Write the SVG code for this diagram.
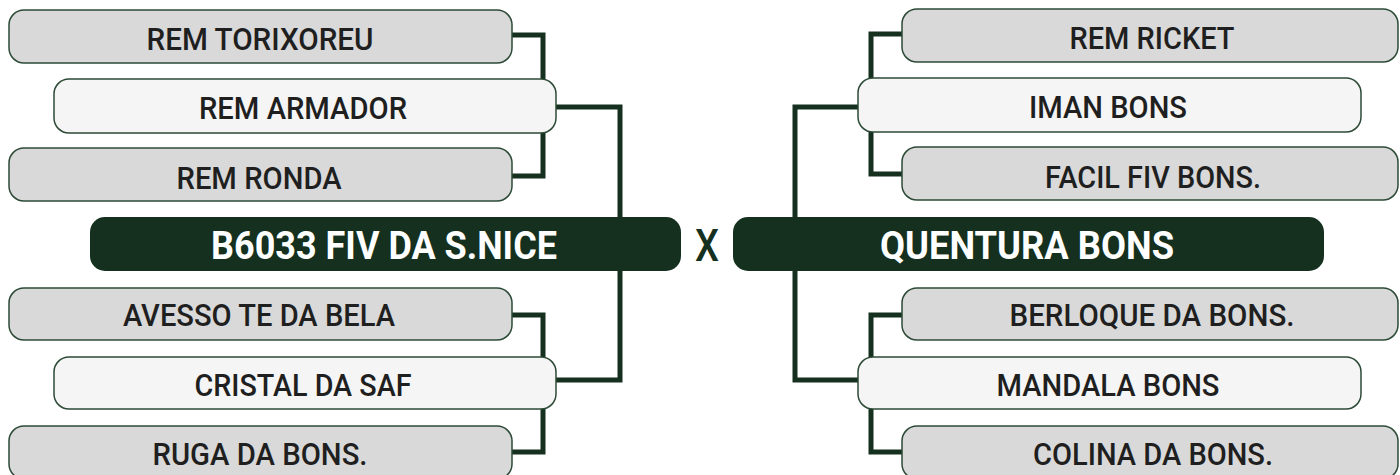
<svg xmlns="http://www.w3.org/2000/svg" width="1400" height="475" viewBox="0 0 1400 475">
  <style>
    .gray { fill: #d9d9d9; stroke: #2c4a36; stroke-width: 1.5; }
    .white { fill: #f5f5f5; stroke: #2c4a36; stroke-width: 1.5; }
    .dark { fill: #15301e; }
    .conn { fill: none; stroke: #15301e; stroke-width: 5; stroke-linejoin: miter; }
    .lbl { font-family: Roboto, "Liberation Sans", sans-serif; font-size: 32px; font-weight: 500; fill: #1f1f1f; text-anchor: middle; }
    .big { font-family: Roboto, "Liberation Sans", sans-serif; font-size: 39px; font-weight: 700; fill: #ffffff; text-anchor: middle; }
    .vs { font-family: Roboto, "Liberation Sans", sans-serif; font-size: 45px; font-weight: 500; fill: #15301e; text-anchor: middle; }
  </style>
  <rect width="1400" height="475" fill="#ffffff"/>
  <g id="connectors">
    <path class="conn" d="M512,35 H543 V80"/>
    <path class="conn" d="M543,132 V176 H512"/>
    <path class="conn" d="M556,107 H620 V380 H556"/>
    <path class="conn" d="M512,315 H543 V358"/>
    <path class="conn" d="M543,408 V452 H512"/>
    <path class="conn" d="M902,34 H871 V79"/>
    <path class="conn" d="M871,131 V174 H902"/>
    <path class="conn" d="M858,107 H795 V380 H858"/>
    <path class="conn" d="M902,315 H871 V358"/>
    <path class="conn" d="M871,408 V452 H902"/>
  </g>
  <g id="n-rem-torixoreu">
    <rect class="gray" x="9" y="10" width="503" height="53" rx="15"/>
    <text class="lbl" x="260" y="50" textLength="227" lengthAdjust="spacingAndGlyphs">REM TORIXOREU</text>
  </g>
  <g id="n-rem-armador">
    <rect class="white" x="54" y="79" width="502" height="54" rx="15"/>
    <text class="lbl" x="303" y="119" textLength="208" lengthAdjust="spacingAndGlyphs">REM ARMADOR</text>
  </g>
  <g id="n-rem-ronda">
    <rect class="gray" x="9" y="148" width="503" height="53" rx="15"/>
    <text class="lbl" x="259" y="189" textLength="165" lengthAdjust="spacingAndGlyphs">REM RONDA</text>
  </g>
  <g id="n-b6033">
    <rect class="dark" x="90" y="217" width="591" height="54" rx="15"/>
    <text class="big" x="384" y="259" textLength="346" lengthAdjust="spacingAndGlyphs">B6033 FIV DA S.NICE</text>
  </g>
  <g id="n-avesso">
    <rect class="gray" x="9" y="288" width="503" height="52" rx="15"/>
    <text class="lbl" x="259" y="326" textLength="272" lengthAdjust="spacingAndGlyphs">AVESSO TE DA BELA</text>
  </g>
  <g id="n-cristal">
    <rect class="white" x="54" y="357" width="502" height="52" rx="15"/>
    <text class="lbl" x="303" y="396" textLength="217" lengthAdjust="spacingAndGlyphs">CRISTAL DA SAF</text>
  </g>
  <g id="n-ruga">
    <rect class="gray" x="9" y="426" width="503" height="53" rx="15"/>
    <text class="lbl" x="260" y="465" textLength="215" lengthAdjust="spacingAndGlyphs">RUGA DA BONS.</text>
  </g>
  <g id="vs">
    <text class="vs" x="707" y="261" textLength="24" lengthAdjust="spacingAndGlyphs">X</text>
  </g>
  <g id="n-rem-ricket">
    <rect class="gray" x="902" y="9" width="496" height="53" rx="15"/>
    <text class="lbl" x="1152" y="49" textLength="165" lengthAdjust="spacingAndGlyphs">REM RICKET</text>
  </g>
  <g id="n-iman-bons">
    <rect class="white" x="858" y="78" width="503" height="54" rx="15"/>
    <text class="lbl" x="1108" y="118" textLength="158" lengthAdjust="spacingAndGlyphs">IMAN BONS</text>
  </g>
  <g id="n-facil">
    <rect class="gray" x="902" y="147" width="496" height="53" rx="15"/>
    <text class="lbl" x="1153" y="188" textLength="216" lengthAdjust="spacingAndGlyphs">FACIL FIV BONS.</text>
  </g>
  <g id="n-quentura">
    <rect class="dark" x="733" y="217" width="591" height="54" rx="15"/>
    <text class="big" x="1027" y="259" textLength="294" lengthAdjust="spacingAndGlyphs">QUENTURA BONS</text>
  </g>
  <g id="n-berloque">
    <rect class="gray" x="902" y="288" width="496" height="52" rx="15"/>
    <text class="lbl" x="1152" y="326" textLength="285" lengthAdjust="spacingAndGlyphs">BERLOQUE DA BONS.</text>
  </g>
  <g id="n-mandala">
    <rect class="white" x="858" y="357" width="503" height="52" rx="15"/>
    <text class="lbl" x="1108" y="396" textLength="223" lengthAdjust="spacingAndGlyphs">MANDALA BONS</text>
  </g>
  <g id="n-colina">
    <rect class="gray" x="902" y="426" width="496" height="53" rx="15"/>
    <text class="lbl" x="1153" y="465" textLength="240" lengthAdjust="spacingAndGlyphs">COLINA DA BONS.</text>
  </g>
</svg>
